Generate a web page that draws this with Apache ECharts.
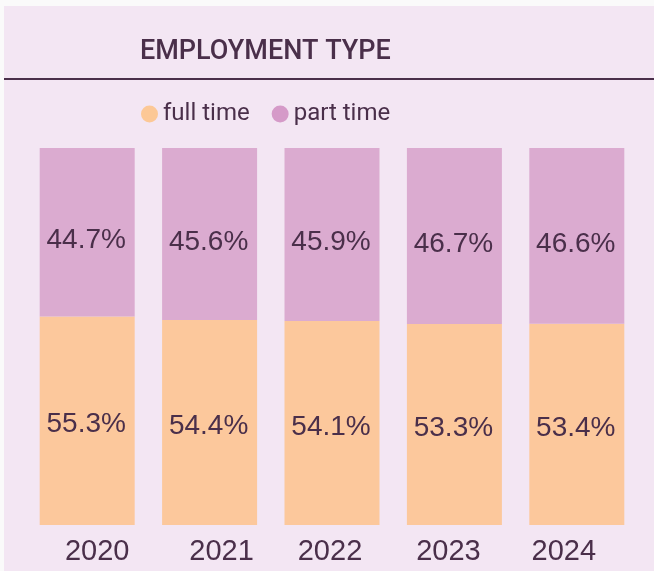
<!DOCTYPE html>
<html>
<head>
<meta charset="utf-8">
<script src="https://cdn.jsdelivr.net/npm/echarts@6/dist/echarts.min.js"></script>
<style>
    html, body {margin: 0; padding: 0; background: #fafafa;}
    #chart {position: absolute; left: 4px; top: 6px; width: 650px; height: 565px; background: #f3e6f3;}
</style>
</head>
<body>
<div id="chart"></div>
<script>
var years = ['2020', '2021', '2022', '2023', '2024'];
var fullTime = [55.3, 54.4, 54.1, 53.3, 53.4];
var partTime = [44.7, 45.6, 45.9, 46.7, 46.6];

var textColor = '#4a2f4a';
var labelFont = 'Liberation Sans';
// year labels in the original sit slightly off the bar centres
var yearShift = [10, 12, -2, -6, -13];

var chart = echarts.init(document.getElementById('chart'));
var pctLabel = function (dy) {
    return {
        show: true,
        position: 'inside',
        offset: [-1, dy],
        fontFamily: labelFont,
        fontSize: 28,
        color: textColor,
        formatter: function (p) { return p.value.toFixed(1) + '%'; }
    };
};

var option = {
    backgroundColor: '#f3e6f3',
    title: {
        text: 'EMPLOYMENT TYPE',
        left: 131,
        top: 28,
        textStyle: {fontFamily: 'Roboto', fontWeight: 500, fontSize: 27, color: textColor}
    },
    legend: {
        left: 132,
        top: 91,
        icon: 'circle',
        itemWidth: 17,
        itemHeight: 17,
        itemGap: 22,
        textStyle: {fontFamily: 'Roboto', fontSize: 24, color: textColor},
        data: [
            {name: 'full time', itemStyle: {color: '#fcc896'}},
            {name: 'part time', itemStyle: {color: '#d59ac8'}}
        ]
    },
    graphic: [{
        type: 'line',
        shape: {x1: 0, y1: 73, x2: 650, y2: 73},
        style: {stroke: '#4a2f4a', lineWidth: 2}
    }],
    grid: {left: 22, right: 16, top: 142, bottom: 46},
    xAxis: {
        type: 'category',
        data: years.map(function (y, i) {
            var s = yearShift[i];
            return {
                value: y,
                textStyle: {padding: s >= 0 ? [0, 0, 0, 2 * s] : [0, -2 * s, 0, 0]}
            };
        }),
        axisLine: {show: false},
        axisTick: {show: false},
        axisLabel: {fontFamily: labelFont, fontSize: 29, color: textColor, margin: 12}
    },
    yAxis: {
        type: 'value',
        min: 0,
        max: 100,
        show: false,
        splitLine: {show: false}
    },
    series: [{
        name: 'full time',
        type: 'bar',
        stack: 'total',
        barWidth: 95,
        itemStyle: {color: '#fcc89c'},
        label: pctLabel(4),
        data: fullTime
    }, {
        name: 'part time',
        type: 'bar',
        stack: 'total',
        barWidth: 95,
        itemStyle: {color: '#dbabd0'},
        label: pctLabel(8),
        data: partTime
    }]
};
chart.setOption(option);
</script>
</body>
</html>
